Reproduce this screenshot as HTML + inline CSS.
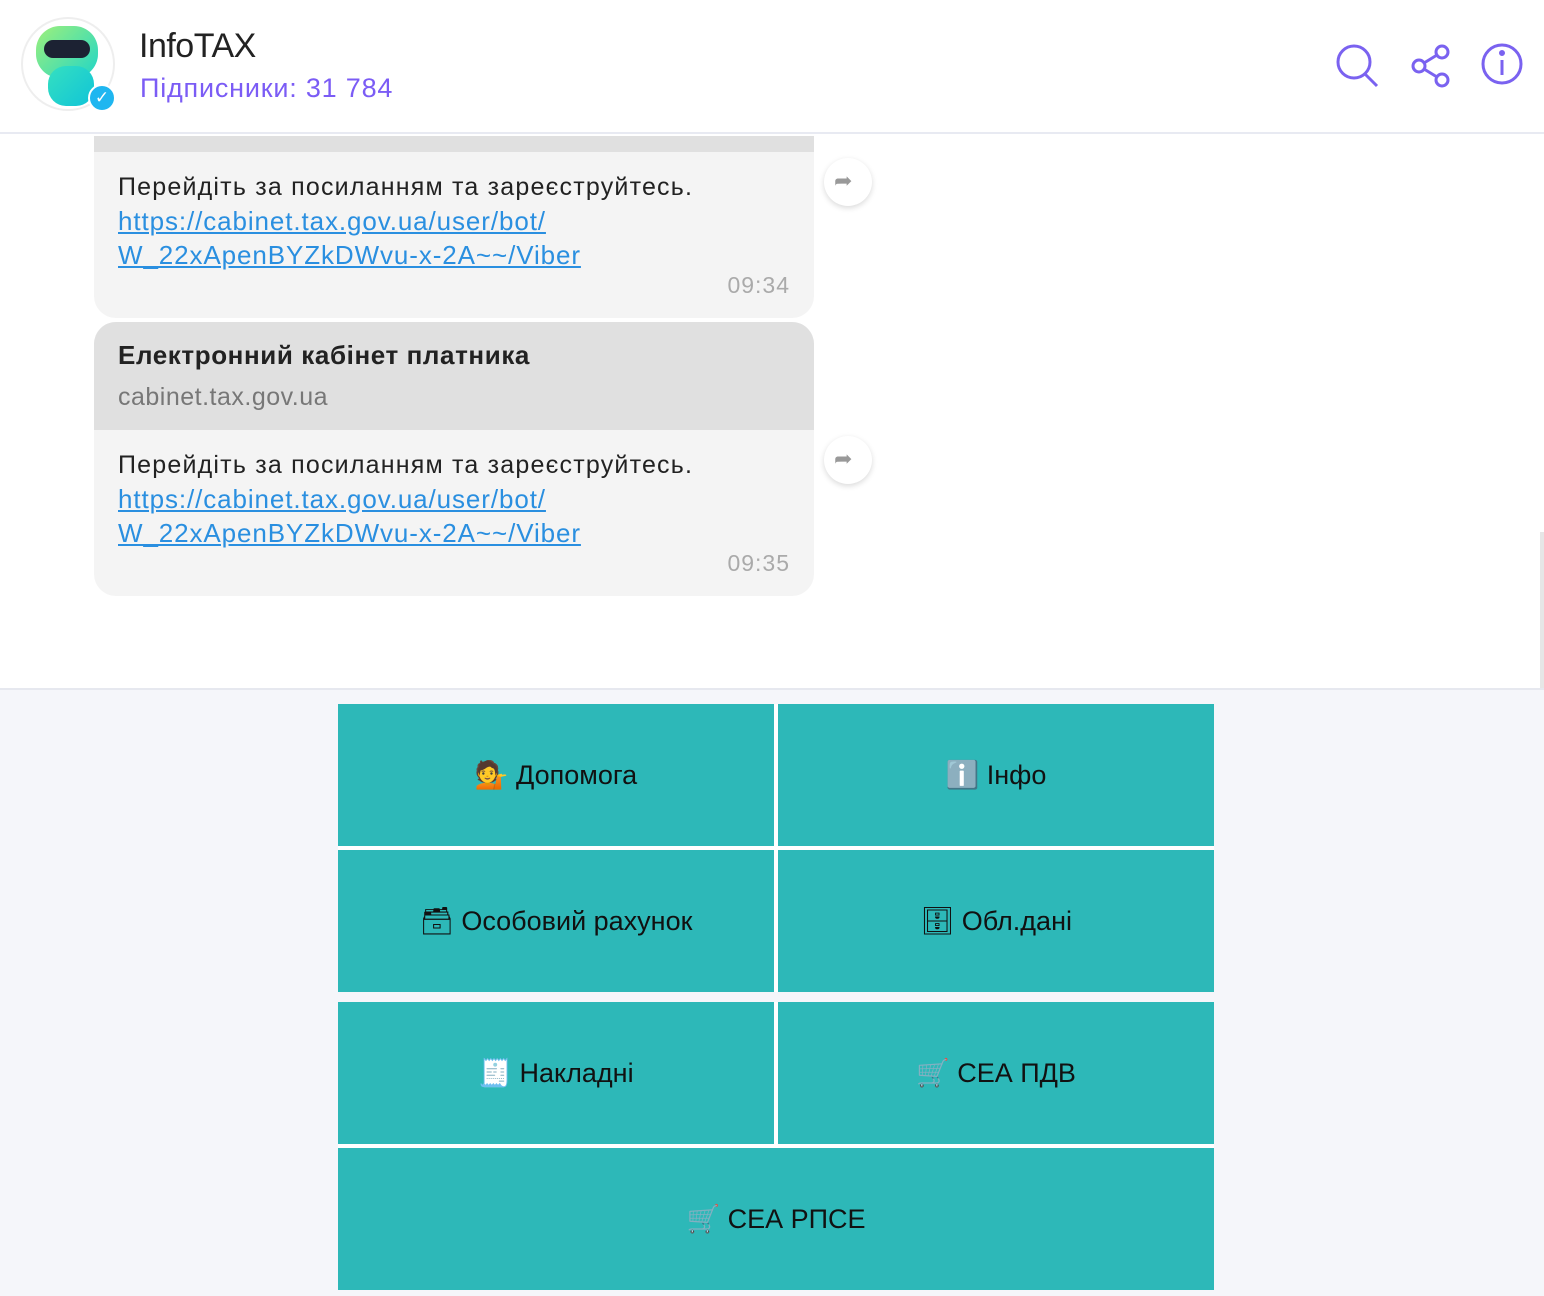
<!DOCTYPE html>
<html><head><meta charset="utf-8"><style>
*{margin:0;padding:0;box-sizing:border-box}
body{width:1544px;height:1296px;background:#fff;font-family:"Liberation Sans","DejaVu Sans",sans-serif;position:relative;overflow:hidden}
.abs{position:absolute}
.hdr{left:0;top:0;width:1544px;height:134px;background:#fff;border-bottom:2px solid #e8eaf2}
.b1{left:94px;top:136px;width:720px;height:182px;background:#f4f4f4;border-radius:0 0 22px 22px;overflow:hidden}
.b2{left:94px;top:322px;width:720px;height:274px;background:#f4f4f4;border-radius:22px;overflow:hidden}
.txt{font-size:25px;color:#222;line-height:34px;letter-spacing:1.2px}
.lnk{color:#2a8fe0;text-decoration:underline;font-size:26px;line-height:34px;letter-spacing:0.9px}
.time{font-size:23px;color:#aaa;letter-spacing:1px}
.fw{width:48px;height:48px;border-radius:50%;background:#fff;box-shadow:0 2px 6px rgba(0,0,0,.15)}
.kb{left:0;top:688px;width:1544px;height:608px;background:#f5f6fa;border-top:2px solid #e6e8ef}
.btn{background:#2db8b8;display:flex;align-items:center;justify-content:center;font-size:27px;color:#111}
.gap{background:#fff}
</style></head><body>
<div class="abs hdr"></div>
<div class="abs" style="left:21px;top:17px;width:94px;height:94px;border-radius:50%;border:2px solid #eee;background:#fff"></div>
<div class="abs" style="left:36px;top:26px;width:62px;height:52px;border-radius:24px;background:linear-gradient(135deg,#9ff07a,#1fd6c8)"></div>
<div class="abs" style="left:44px;top:40px;width:46px;height:18px;border-radius:9px;background:#1c2233"></div>
<div class="abs" style="left:48px;top:66px;width:46px;height:40px;border-radius:18px;background:linear-gradient(135deg,#35e0c0,#10c4d8)"></div>
<div class="abs" style="left:88px;top:84px;width:28px;height:28px;border-radius:50%;background:#1fb6f0;border:2px solid #fff;color:#fff;font-size:17px;text-align:center;line-height:24px;font-weight:bold">✓</div>
<div class="abs" style="left:139px;top:27px;font-size:34px;color:#222;letter-spacing:-0.5px">InfoTAX</div>
<div class="abs" style="left:140px;top:73px;font-size:27px;color:#7b5cf5;letter-spacing:0.8px">Підписники: 31 784</div>
<svg class="abs" style="left:1330px;top:38px" width="200" height="52" viewBox="0 0 200 52" fill="none" stroke="#7a62f0" stroke-width="3">
<circle cx="24" cy="24" r="16"/><line x1="35" y1="36" x2="47" y2="48"/>
<circle cx="89" cy="28" r="6"/><circle cx="112" cy="14" r="6"/><circle cx="112" cy="42" r="6"/>
<line x1="94" y1="25" x2="107" y2="17"/><line x1="94" y1="31" x2="107" y2="39"/>
<circle cx="172" cy="26" r="19"/><line x1="172" y1="22" x2="172" y2="37"/><circle cx="172" cy="15" r="1.5" fill="#7a62f0"/>
</svg>
<div class="abs b1"><div style="height:16px;background:#e0e0e0"></div>
<div style="padding:18px 24px 0"><div class="txt">Перейдіть за посиланням та зареєструйтесь.</div><div class="lnk">https://cabinet.tax.gov.ua/user/bot/<br>W_22xApenBYZkDWvu-x-2A~~/Viber</div></div>
<div class="abs time" style="right:24px;top:136px">09:34</div></div>
<div class="abs b2"><div style="height:108px;background:#e0e0e0;padding:18px 24px"><div style="font-size:26px;font-weight:bold;color:#222;letter-spacing:0.6px">Електронний кабінет платника</div><div style="font-size:25px;color:#777;margin-top:12px;letter-spacing:0.5px">cabinet.tax.gov.ua</div></div>
<div style="padding:18px 24px 0"><div class="txt">Перейдіть за посиланням та зареєструйтесь.</div><div class="lnk">https://cabinet.tax.gov.ua/user/bot/<br>W_22xApenBYZkDWvu-x-2A~~/Viber</div></div>
<div class="abs time" style="right:24px;top:228px">09:35</div></div>
<div class="abs fw" style="left:824px;top:158px"></div><div class="abs" style="left:834px;top:168px;font-size:22px;color:#999">➦</div>
<div class="abs fw" style="left:824px;top:436px"></div><div class="abs" style="left:834px;top:446px;font-size:22px;color:#999">➦</div>
<div class="abs" style="left:1540px;top:532px;width:4px;height:156px;background:#e6e6e6"></div>
<div class="abs kb"></div>
<div class="abs gap" style="left:338px;top:704px;width:876px;height:586px"></div>
<div class="abs" style="left:338px;top:992px;width:876px;height:10px;background:#f5f6fa"></div>
<div class="abs btn" style="left:338px;top:704px;width:436px;height:142px">💁 Допомога</div>
<div class="abs btn" style="left:778px;top:704px;width:436px;height:142px">ℹ️ Інфо</div>
<div class="abs btn" style="left:338px;top:850px;width:436px;height:142px">🗃 Особовий рахунок</div>
<div class="abs btn" style="left:778px;top:850px;width:436px;height:142px">🗄 Обл.дані</div>
<div class="abs btn" style="left:338px;top:1002px;width:436px;height:142px">🧾 Накладні</div>
<div class="abs btn" style="left:778px;top:1002px;width:436px;height:142px">🛒 СЕА ПДВ</div>
<div class="abs btn" style="left:338px;top:1148px;width:876px;height:142px">🛒 СЕА РПСЕ</div>
</body></html>
